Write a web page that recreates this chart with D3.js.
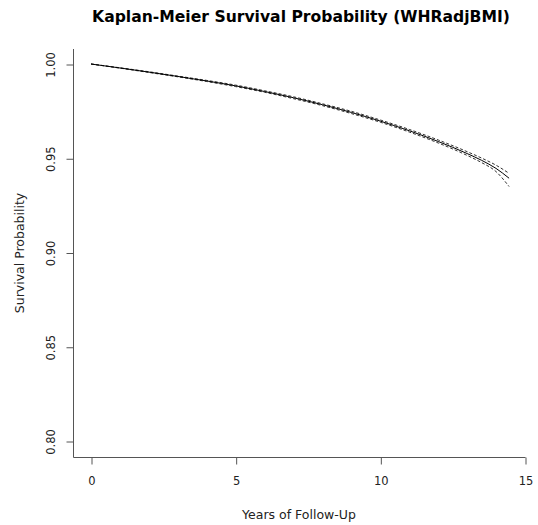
<!DOCTYPE html>
<html>
<head>
<meta charset="utf-8">
<script src="https://cdn.jsdelivr.net/npm/d3@7"></script>
<style>
  html, body { margin: 0; padding: 0; background: #fff; }
  svg { display: block; }
  text { font-family: "DejaVu Sans", sans-serif; }
</style>
</head>
<body>
<svg id="chart" width="538" height="525"></svg>
<script>
// Follow-up time (years) and Kaplan-Meier estimates with 95% confidence limits
const years    = [0, 1, 2, 3, 4, 5, 6, 7, 8, 9, 10, 11, 12, 13, 13.5, 14, 14.45];
const survival = [1.000, 0.9979, 0.9957, 0.9934, 0.9910, 0.9884, 0.9854, 0.9821, 0.9784, 0.9743, 0.9697, 0.9646, 0.9589, 0.9525, 0.9489, 0.9446, 0.9394];
const upperCI  = [1.000, 0.9980, 0.9959, 0.9936, 0.9913, 0.9888, 0.9858, 0.9826, 0.9789, 0.9749, 0.9703, 0.9653, 0.9597, 0.9535, 0.9501, 0.9463, 0.9420];
const lowerCI  = [1.000, 0.9978, 0.9955, 0.9932, 0.9907, 0.9880, 0.9850, 0.9816, 0.9779, 0.9737, 0.9691, 0.9639, 0.9581, 0.9515, 0.9477, 0.9429, 0.9350];

const xTicks = [0, 5, 10, 15];
const yTicks = [0.80, 0.85, 0.90, 0.95, 1.00];

const title = "Kaplan-Meier Survival Probability (WHRadjBMI)";
const xTitle = "Years of Follow-Up";
const yTitle = "Survival Probability";

const svg = d3.select("#chart");

// plot region
const plotLeft = 73, plotRight = 525, plotTop = 49, plotBottom = 457;

const x = d3.scaleLinear().domain([0, 15]).range([91, 525]);
const y = d3.scaleLinear().domain([0.80, 1.00]).range([441, 64]);

const axisColor = "#555";
const textColor = "#222";

// L-shaped frame
svg.append("path")
  .attr("d", `M${plotLeft + 0.5},${plotTop}V${plotBottom + 0.5}H${plotRight + 0.5}`)
  .attr("fill", "none")
  .attr("stroke", axisColor)
  .attr("stroke-width", 1);

// x axis ticks and labels
const xAxis = d3.axisBottom(x).tickValues(xTicks).tickSize(7).tickPadding(12)
  .tickFormat(d3.format("d"));
const gx = svg.append("g").attr("transform", `translate(0.5,${plotBottom + 0.5})`).call(xAxis);
gx.select(".domain").remove();
gx.selectAll(".tick line").attr("stroke", axisColor);
gx.selectAll(".tick text").attr("fill", textColor).attr("font-size", 11.5)
  .attr("font-family", "DejaVu Sans");

// y axis ticks and labels (rotated, parallel to the axis)
const yAxis = d3.axisLeft(y).tickValues(yTicks).tickSize(7).tickFormat(d3.format(".2f"));
const gy = svg.append("g").attr("transform", `translate(${plotLeft + 0.5},0.5)`).call(yAxis);
gy.select(".domain").remove();
gy.selectAll(".tick line").attr("stroke", axisColor);
gy.selectAll(".tick text")
  .attr("fill", textColor).attr("font-size", 11.5).attr("font-family", "DejaVu Sans")
  .attr("x", null).attr("dy", null)
  .attr("text-anchor", "middle")
  .attr("transform", "translate(-19,0) rotate(-90)");

// survival curve and confidence limits
const rows = years.map((t, i) => ({ t, s: survival[i], lo: lowerCI[i], hi: upperCI[i] }));
const lineOf = key => d3.line().x(d => x(d.t)).y(d => y(d[key])).curve(d3.curveMonotoneX);

svg.append("path").datum(rows)
  .attr("d", lineOf("hi"))
  .attr("fill", "none").attr("stroke", "#333").attr("stroke-width", 1)
  .attr("stroke-dasharray", "3,2");
svg.append("path").datum(rows)
  .attr("d", lineOf("lo"))
  .attr("fill", "none").attr("stroke", "#333").attr("stroke-width", 1)
  .attr("stroke-dasharray", "3,2");
svg.append("path").datum(rows)
  .attr("d", lineOf("s"))
  .attr("fill", "none").attr("stroke", "#000").attr("stroke-width", 1);

// titles
svg.append("text")
  .attr("x", 301).attr("y", 22)
  .attr("text-anchor", "middle")
  .attr("font-weight", "bold").attr("font-size", 15.6)
  .attr("fill", "#000")
  .text(title);

svg.append("text")
  .attr("x", 299).attr("y", 519)
  .attr("text-anchor", "middle")
  .attr("font-size", 12.5).attr("fill", textColor)
  .text(xTitle);

svg.append("text")
  .attr("transform", `translate(24,253) rotate(-90)`)
  .attr("text-anchor", "middle")
  .attr("font-size", 12.5).attr("fill", textColor)
  .text(yTitle);
</script>
</body>
</html>
